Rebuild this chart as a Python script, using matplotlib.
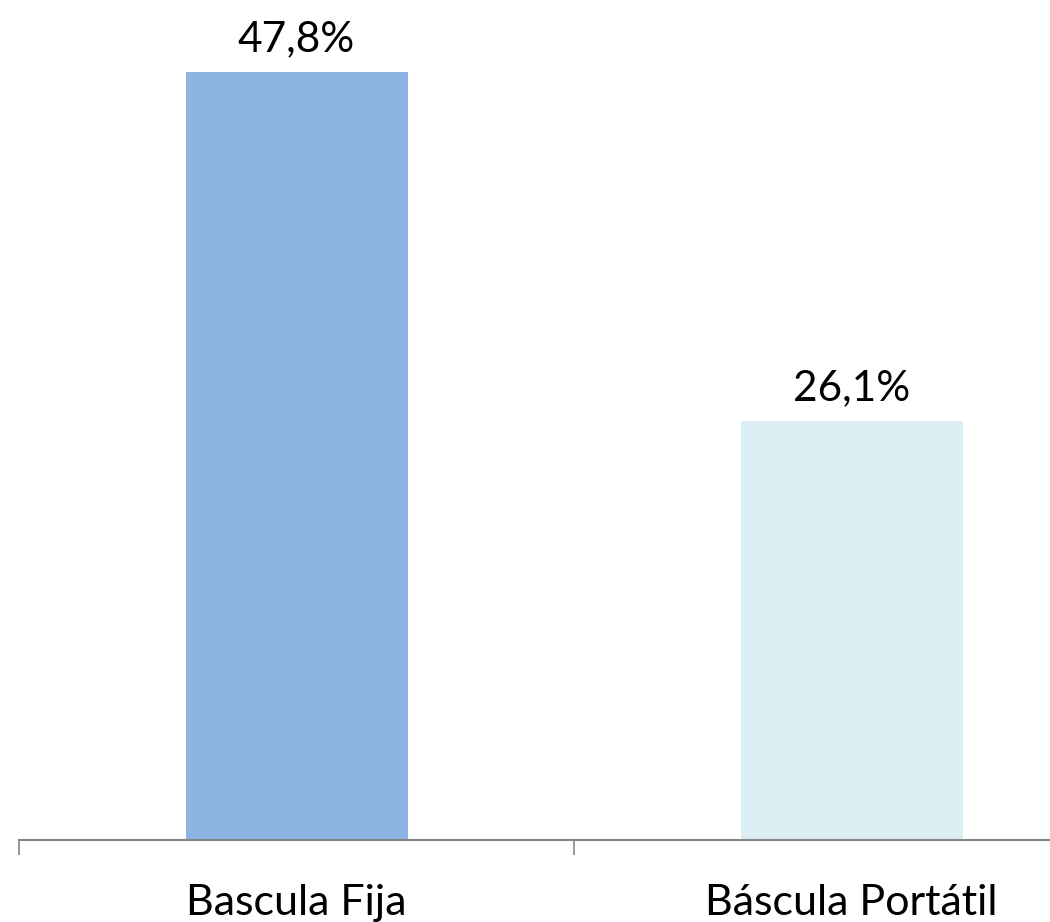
import matplotlib
matplotlib.use("Agg")
import matplotlib.pyplot as plt

categories = ["Bascula Fija", "Báscula Portátil"]
values = [47.8, 26.1]
value_labels = ["47,8%", "26,1%"]
colors = ["#8EB4E3", "#DBEEF4"]

plt.rcParams['font.family'] = ['Lato', 'DejaVu Sans']

W, H = 1050, 922
fig = plt.figure(figsize=(W / 100, H / 100), dpi=100)
left_px, bottom_px = 19, H - 840
ax_w_px = 1110
ymax = 50
px_per_unit = (840 - 72) / 47.8
ax_h_px = ymax * px_per_unit
ax = fig.add_axes([left_px / W, bottom_px / H, ax_w_px / W, ax_h_px / H])

x = list(range(len(categories)))
ax.bar(x, values, width=0.4, color=colors, zorder=2)
ax.set_xlim(-0.5, len(categories) - 0.5)
ax.set_ylim(0, ymax)

for xi, v, lab in zip(x, values, value_labels):
    ax.annotate(lab, xy=(xi, v), xytext=(0, 15), textcoords='offset points',
                ha='center', va='baseline', fontsize=30.5, color='#000000')

for xi, cat in zip(x, categories):
    ax.annotate(cat, xy=(xi, 0), xycoords=('data', 'axes fraction'),
                xytext=(0, -54), textcoords='offset points',
                ha='center', va='baseline', fontsize=31, color='#000000')

for s in ['top', 'right', 'left']:
    ax.spines[s].set_visible(False)
ax.spines['bottom'].set_color('#868686')
ax.spines['bottom'].set_linewidth(1.5)
ax.set_yticks([])
ax.set_xticks([i - 0.5 for i in range(len(categories) + 1)])
ax.set_xticklabels([])
ax.tick_params(axis='x', direction='out', length=11, width=1.2, color='#868686')

fig.savefig("out.png", dpi=100)
